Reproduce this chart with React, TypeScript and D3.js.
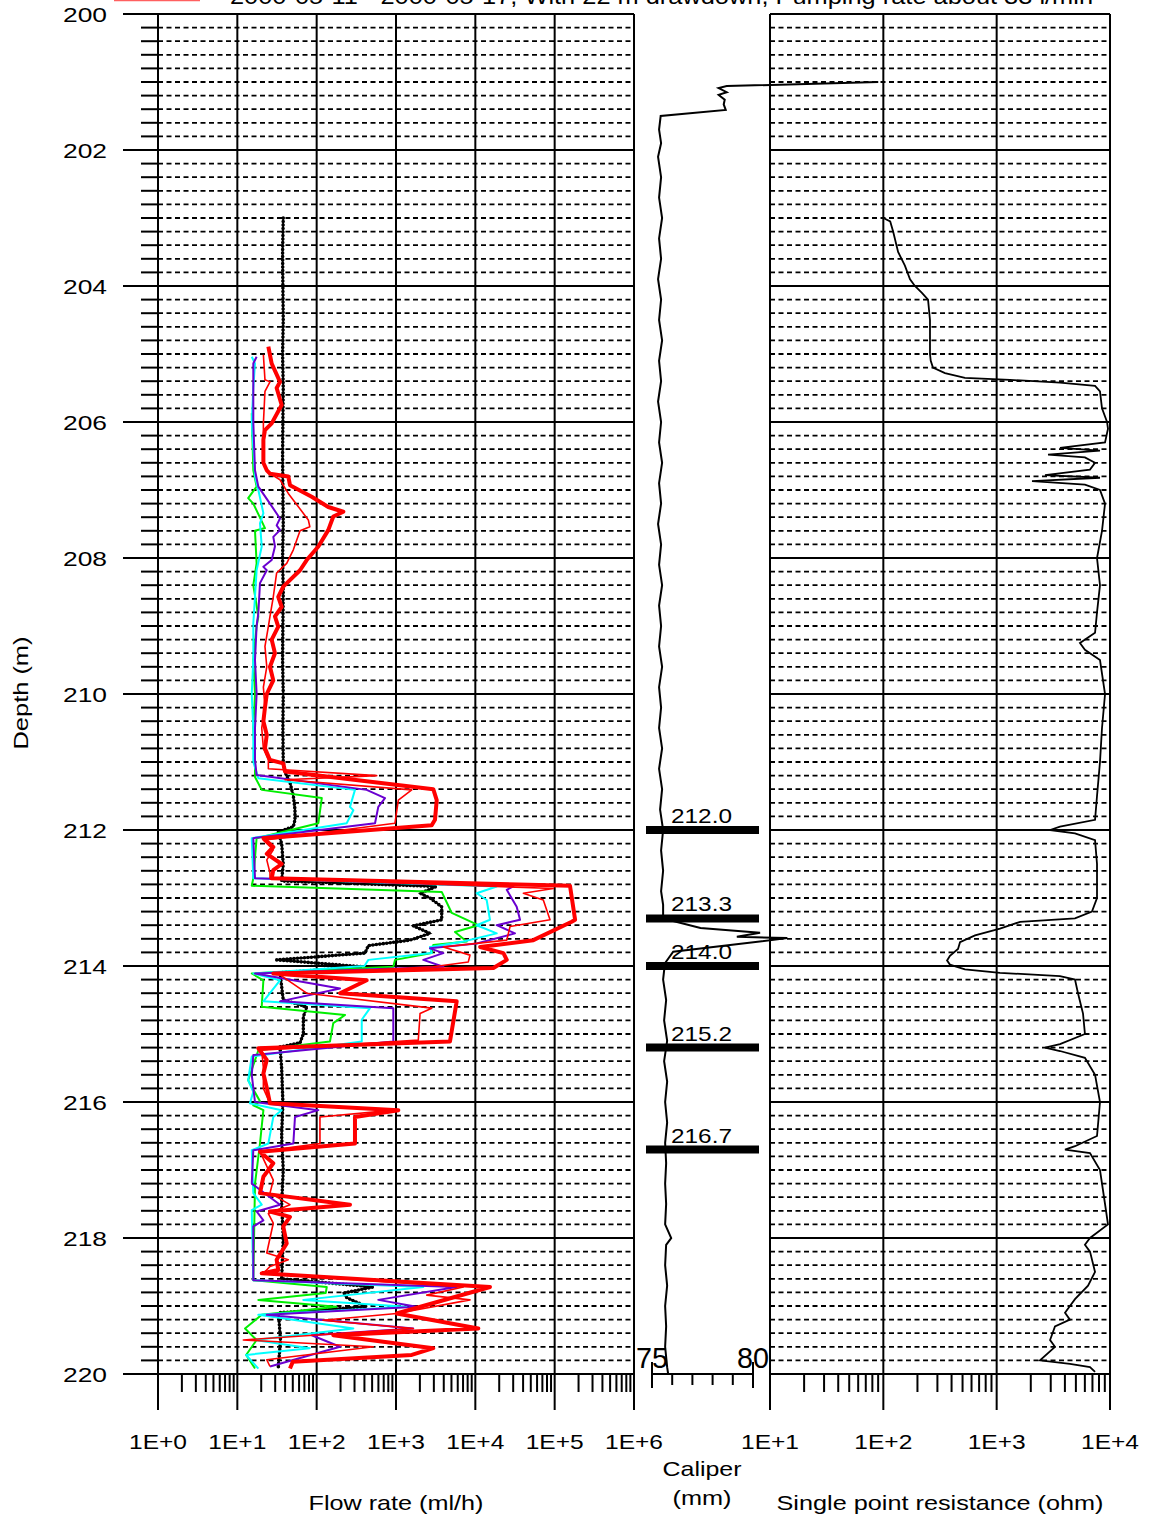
import React from 'react';
import * as d3 from 'd3';

const W = 1149;
const H = 1517;
const FONT = '"Liberation Sans", Arial, sans-serif';

const titleText = '2000-05-11 - 2000-05-17, With 22 m drawdown, Pumping rate about 33 l/min';
const depthTicks = [200, 202, 204, 206, 208, 210, 212, 214, 216, 218, 220];
const flowTickLabels = ['1E+0', '1E+1', '1E+2', '1E+3', '1E+4', '1E+5', '1E+6'];
const resTickLabels = ['1E+1', '1E+2', '1E+3', '1E+4'];
const caliperTicks = [75, 76, 77, 78, 79, 80];
const caliperLabels = ['75', '80'];
const fractureDepths = [212.0, 213.3, 214.0, 215.2, 216.7];

// [depth (m), flow (ml/h)]
const blackFlow: [number, number][] = [
  [203.0, 37.9], [203.5, 37.2], [204.0, 37.5], [204.5, 37.9], [205.0, 37.2], [205.5, 37.9], [206.0, 37.5],
  [206.5, 37.2], [207.0, 37.5], [207.5, 37.9], [208.0, 37.2], [208.5, 37.9], [209.0, 37.5], [209.5, 37.2],
  [210.0, 37.9], [210.5, 37.5], [211.0, 37.9], [211.15, 39.9], [211.3, 46.1], [211.5, 50.8], [211.7, 53.3],
  [211.85, 53.3], [211.95, 50.8], [212.03, 32.8], [212.2, 36.2], [212.5, 37.9], [212.75, 36.2], [212.83, 3260],
  [212.93, 2010], [213.0, 2680], [213.13, 3770], [213.32, 3770], [213.41, 1650], [213.52, 2680], [213.62, 1500],
  [213.7, 448], [213.81, 407], [213.91, 31.3], [214.01, 370], [214.1, 34.5], [214.3, 36.2], [214.5, 37.9],
  [214.6, 74.9], [214.75, 67.9], [215.0, 67.9], [215.13, 61.7], [215.19, 34.5], [215.5, 36.2], [216.0, 37.5],
  [216.5, 36.2], [217.0, 37.9], [217.5, 36.2], [218.0, 37.9], [218.6, 36.2], [218.72, 518], [218.81, 217],
  [218.88, 240], [219.01, 427], [219.1, 33], [219.5, 35], [219.91, 32.8],
];

const redThick: [number, number][] = [
  [204.89, 24.6], [205.14, 27.1], [205.41, 34.5], [205.5, 31.3], [205.75, 36.2], [206.02, 27.1], [206.12, 22.3],
  [206.26, 21.3], [206.6, 21.3], [206.71, 23.5], [206.76, 25.8], [206.8, 43.9], [206.93, 46.1], [207.1, 86.6],
  [207.25, 140], [207.32, 217], [207.39, 162], [207.59, 140], [207.83, 105], [208.03, 74.9], [208.18, 61.7],
  [208.42, 37.9], [208.57, 32.8], [208.72, 36.2], [208.86, 29.8], [209.01, 32.8], [209.2, 27.1], [209.4, 29.8],
  [209.6, 25.8], [209.8, 28.4], [210.0, 23.5], [210.2, 22.3], [210.4, 21.3], [210.6, 23.5], [210.8, 22.3],
  [210.97, 25.8], [211.02, 37.9], [211.14, 39.9], [211.4, 2950], [211.56, 3260], [211.85, 3100], [211.93, 2820],
  [212.12, 21.3], [212.25, 28.4], [212.35, 23.5], [212.5, 36.2], [212.59, 28.4], [212.71, 27.1], [212.82, 156000],
  [213.32, 181000], [213.35, 164000], [213.62, 53800], [213.72, 11500], [213.81, 22600], [213.91, 24900],
  [214.03, 16900], [214.11, 28.4], [214.21, 427], [214.4, 197], [214.52, 5820], [215.11, 4790], [215.21, 18.4],
  [215.38, 23.5], [215.58, 21.3], [215.79, 23.5], [216.02, 25.8], [216.12, 1070], [216.22, 304], [216.61, 304],
  [216.73, 19.3], [216.9, 28.4], [217.1, 21.3], [217.34, 19.3], [217.51, 263], [217.61, 25.8], [217.69, 46.1],
  [217.83, 37.9], [218.08, 41.9], [218.32, 31.3], [218.47, 32.8], [218.52, 20.3], [218.72, 15300], [219.11, 1020],
  [219.33, 10900], [219.43, 162], [219.62, 2950], [219.72, 1580], [219.82, 50], [219.92, 46.1],
];

const redThin: [number, number][] = [
  [205.01, 21.3], [205.38, 22.3], [205.41, 25.8], [205.55, 22.3], [206.02, 21.3], [206.61, 21.3], [206.76, 25.8],
  [206.85, 34.5], [207.05, 43.9], [207.44, 78.5], [207.54, 82], [207.6, 61.7], [207.88, 50.8], [208.08, 41.9],
  [208.22, 31.3], [208.57, 28.4], [208.86, 25.8], [209.01, 24.6], [209.3, 22.3], [209.6, 23.5], [209.9, 21.3],
  [210.2, 22.3], [210.5, 20.3], [210.8, 21.3], [210.97, 24.6], [211.1, 24.6], [211.2, 571], [211.26, 39.9],
  [211.41, 1580], [211.56, 1070], [211.9, 971], [212.15, 21.3], [212.29, 28.4], [212.44, 23.5], [212.63, 25.8],
  [212.71, 25.8], [212.86, 96200], [212.93, 40300], [213.03, 71900], [213.32, 87400], [213.42, 27400],
  [213.62, 24900], [213.72, 3950], [213.84, 8570], [213.94, 8150], [214.01, 2950], [214.13, 34.5], [214.4, 74.9],
  [214.62, 2820], [214.7, 2010], [215.09, 1910], [215.24, 20.3], [215.5, 21.3], [215.8, 21.3], [216.02, 25.8],
  [216.12, 925], [216.22, 110], [216.61, 110], [216.73, 19.3], [217.15, 28.4], [217.34, 25.8], [217.51, 46.1],
  [217.64, 24.6], [217.78, 28.4], [218.22, 23.5], [218.32, 43.9], [218.42, 25.8], [218.52, 21.3], [218.72, 7050],
  [218.84, 2440], [218.91, 8570], [219.11, 1020], [219.21, 120], [219.33, 1650], [219.5, 11.9], [219.6, 518],
  [219.79, 23.5], [219.89, 25.8],
];

const purpleFlow: [number, number][] = [
  [205.04, 17.5], [205.14, 15.9], [206.0, 15.9], [206.71, 16.7], [206.95, 18.4], [207.2, 25.8], [207.42, 34.5],
  [207.52, 31.3], [207.59, 34.5], [207.69, 28.4], [207.83, 29.8], [208.03, 27.1], [208.13, 21.3], [208.18, 23.5],
  [208.37, 19.3], [208.81, 18.4], [209.0, 17.5], [209.5, 16.7], [210.0, 17.5], [210.5, 16.7], [210.97, 16.7],
  [211.19, 17.5], [211.41, 427], [211.53, 727], [211.66, 598], [211.9, 544], [212.12, 15.9], [212.71, 16.7],
  [212.83, 30100], [212.88, 24900], [213.13, 33200], [213.32, 36600], [213.4, 18600], [213.52, 31600],
  [213.67, 10400], [213.74, 2680], [213.81, 3950], [213.91, 2210], [214.01, 3950], [214.11, 16.7], [214.33, 197],
  [214.52, 34.5], [214.62, 925], [215.11, 925], [215.31, 15.9], [215.6, 15.2], [216.0, 16.7], [216.12, 105],
  [216.22, 53.3], [216.61, 50.8], [216.71, 15.9], [217.2, 15.2], [217.51, 34.5], [217.61, 17.5], [217.74, 21.3],
  [217.83, 15.9], [218.62, 15.9], [218.72, 5820], [218.91, 598], [219.01, 1820], [219.13, 23.5], [219.33, 1650],
  [219.43, 86.6], [219.6, 197], [219.89, 25.8],
];

const cyanFlow: [number, number][] = [
  [205.04, 15.2], [205.14, 16.7], [205.5, 15.9], [206.0, 15.2], [206.8, 16.7], [207.0, 18.4], [207.34, 21.3],
  [207.49, 19.3], [207.83, 20.3], [208.18, 17.5], [208.57, 16.7], [208.96, 15.9], [209.5, 15.9], [210.0, 15.2],
  [210.5, 15.9], [211.0, 15.9], [211.24, 18.4], [211.41, 304], [211.66, 263], [211.71, 290], [211.9, 239],
  [212.12, 15.2], [212.71, 15.9], [212.83, 18600], [212.93, 10400], [213.03, 13900], [213.32, 15300],
  [213.4, 10400], [213.52, 18600], [213.64, 7050], [213.72, 2680], [213.81, 2820], [213.91, 448], [214.0, 400],
  [214.11, 15.9], [214.21, 34.5], [214.52, 21.3], [214.62, 470], [214.79, 370], [215.11, 370], [215.33, 15.2],
  [215.68, 13.7], [215.85, 15.9], [216.02, 14.4], [216.12, 36.2], [216.22, 28.4], [216.61, 24.6], [216.71, 15.2],
  [217.34, 15.9], [217.51, 20.3], [217.59, 15.2], [218.62, 15.9], [218.72, 2210], [218.91, 67.9], [219.01, 1360],
  [219.13, 18.4], [219.33, 290], [219.5, 16.7], [219.62, 82], [219.72, 12.9], [219.92, 18.4],
];

const greenFlow: [number, number][] = [
  [205.87, 15.2], [206.71, 15.9], [206.95, 17.5], [207.12, 13.7], [207.2, 15.9], [207.56, 22.3], [207.6, 16.7],
  [208.08, 17.5], [208.4, 15.9], [208.86, 18.4], [209.0, 17.5], [209.5, 15.9], [210.0, 16.7], [210.5, 15.9],
  [211.0, 16.7], [211.22, 16.7], [211.41, 20.3], [211.53, 116], [211.9, 105], [212.12, 17.5], [212.71, 15.9],
  [212.82, 15.2], [212.91, 3770], [213.22, 5040], [213.4, 10900], [213.5, 5540], [213.64, 7780], [213.69, 2950],
  [213.81, 2820], [213.91, 971], [214.01, 925], [214.11, 15.2], [214.21, 21.3], [214.6, 20.3], [214.72, 228],
  [214.84, 162], [215.11, 147], [215.24, 18.4], [215.68, 13.7], [215.99, 19.3], [216.05, 15.9], [216.12, 21.3],
  [216.61, 19.3], [217.2, 16.7], [218.62, 15.9], [218.72, 134], [218.81, 130], [218.91, 18.4], [219.01, 178],
  [219.13, 20.3], [219.33, 12.5], [219.5, 17.5], [219.72, 12.9], [219.92, 16.7],
];

// [depth (m), caliper (mm)]
const caliper: [number, number][] = [
  [201.0, 86.2], [201.06, 78.7], [201.09, 78.3], [201.15, 78.7], [201.19, 78.3], [201.26, 78.6], [201.33, 78.55],
  [201.41, 78.65], [201.5, 75.43], [201.7, 75.35], [201.9, 75.45], [202.1, 75.3], [202.4, 75.45], [202.7, 75.35],
  [203.0, 75.5], [203.3, 75.35], [203.6, 75.45], [203.9, 75.3], [204.2, 75.45], [204.5, 75.35], [204.8, 75.5],
  [205.1, 75.35], [205.4, 75.45], [205.7, 75.3], [206.0, 75.45], [206.3, 75.35], [206.6, 75.5], [206.9, 75.35],
  [207.2, 75.45], [207.5, 75.3], [207.8, 75.45], [208.1, 75.35], [208.4, 75.5], [208.7, 75.35], [209.0, 75.45],
  [209.3, 75.35], [209.6, 75.5], [209.9, 75.35], [210.2, 75.45], [210.5, 75.35], [210.8, 75.5], [211.1, 75.35],
  [211.4, 75.5], [211.7, 75.4], [212.0, 75.55], [212.3, 75.45], [212.6, 75.55], [212.9, 75.45], [213.1, 75.55],
  [213.3, 75.55], [213.44, 77.4], [213.51, 80.35], [213.57, 79.2], [213.59, 81.7], [213.79, 76.05], [213.96, 75.64],
  [214.2, 75.55], [214.5, 75.7], [214.8, 75.6], [215.1, 75.75], [215.4, 75.6], [215.7, 75.75], [216.0, 75.65],
  [216.3, 75.75], [216.6, 75.65], [216.9, 75.7], [217.2, 75.65], [217.5, 75.7], [217.8, 75.65], [218.0, 75.95],
  [218.1, 75.7], [218.4, 75.65], [218.7, 75.75], [219.0, 75.65], [219.3, 75.7], [219.6, 75.65], [219.9, 75.75],
  [220.0, 75.8],
];

// [depth (m), resistance (ohm)]
const resistance: [number, number][] = [
  [203.0, 100], [203.05, 115], [203.2, 122], [203.5, 135], [203.7, 155], [203.9, 172], [204.0, 190], [204.1, 219],
  [204.2, 248], [204.5, 258], [205.0, 258], [205.1, 262], [205.2, 274], [205.28, 350], [205.35, 525],
  [205.38, 1310], [205.42, 3620], [205.47, 7380], [205.55, 8160], [205.8, 8500], [206.0, 9420], [206.1, 9600],
  [206.3, 9040], [206.38, 3620], [206.42, 8160], [206.48, 2840], [206.52, 6010], [206.6, 7380], [206.7, 6660],
  [206.78, 2670], [206.82, 8160], [206.87, 2050], [206.92, 6010], [207.0, 8160], [207.2, 9040], [207.6, 8500],
  [208.0, 7680], [208.4, 8160], [208.8, 7680], [209.1, 7380], [209.25, 5430], [209.35, 6010], [209.5, 8160],
  [210.0, 9040], [210.5, 8500], [211.0, 8160], [211.5, 7680], [211.85, 7380], [211.95, 3620], [212.0, 2960],
  [212.05, 4910], [212.15, 7380], [212.5, 7680], [213.0, 7680], [213.2, 6930], [213.3, 4910], [213.35, 1610],
  [213.45, 1070], [213.55, 644], [213.65, 475], [213.75, 456], [213.85, 387], [213.92, 365], [213.98, 387],
  [214.05, 525], [214.1, 1070], [214.15, 3620], [214.2, 4910], [214.4, 5220], [214.7, 5780], [215.0, 6010],
  [215.15, 3620], [215.2, 2670], [215.25, 3620], [215.35, 6010], [215.6, 7380], [216.0, 8160], [216.5, 7680],
  [216.65, 4910], [216.7, 4010], [216.75, 6660], [217.0, 8160], [217.5, 9040], [217.8, 9600], [218.0, 6660],
  [218.1, 6010], [218.2, 6660], [218.5, 7380], [218.7, 6400], [218.9, 4910], [219.0, 4430], [219.1, 4010],
  [219.2, 4430], [219.3, 3270], [219.5, 2960], [219.6, 3270], [219.8, 2410], [219.85, 4430], [219.9, 6660],
  [219.97, 7380],
];

const y = d3.scaleLinear().domain([200, 220]).range([14, 1374]);
const xFlow = d3.scaleLog().domain([1, 1e6]).range([158, 634]);
const xCal = d3.scaleLinear().domain([75, 80]).range([652, 753]);
const xRes = d3.scaleLog().domain([10, 1e4]).range([770, 1110]);

const flowLine = d3.line<[number, number]>().x(d => xFlow(d[1])).y(d => y(d[0]));
const calLine = d3.line<[number, number]>().x(d => xCal(d[1])).y(d => y(d[0]));
const resLine = d3.line<[number, number]>().x(d => xRes(d[1])).y(d => y(d[0]));

const minorDepths = d3.range(0, 101).map(i => 200 + i * 0.2).filter((d, i) => i % 10 !== 0);
const flowMinor: number[] = [];
for (let e = 0; e < 6; e++) for (let k = 2; k <= 9; k++) flowMinor.push(k * Math.pow(10, e));
const resMinor: number[] = [];
for (let e = 1; e < 4; e++) for (let k = 2; k <= 9; k++) resMinor.push(k * Math.pow(10, e));
const flowDecades = flowTickLabels.map((_, i) => Math.pow(10, i));
const resDecades = resTickLabels.map((_, i) => Math.pow(10, i + 1));

export default function App() {
  const dash = '5,3.5';
  return (
    <svg width={W} height={H} style={{ position: 'absolute', left: 0, top: 0, background: '#fff' }} fontFamily={FONT}>
      <rect x={0} y={0} width={W} height={H} fill="#fff" />
      {/* title & legend */}
      <line x1={114} x2={200} y1={0} y2={0} stroke="#ff6060" strokeWidth={2.5} />
      <text x={230} y={4} fontSize={22} textLength={863} lengthAdjust="spacingAndGlyphs">{titleText}</text>

      {/* minor horizontal lines */}
      {minorDepths.map((d, i) => (
        <g key={'m' + i}>
          <line x1={141} x2={158} y1={y(d)} y2={y(d)} stroke="#000" strokeWidth={2} />
          <line x1={158} x2={634} y1={y(d)} y2={y(d)} stroke="#000" strokeWidth={1.8} strokeDasharray={dash} />
          <line x1={770} x2={1110} y1={y(d)} y2={y(d)} stroke="#000" strokeWidth={1.8} strokeDasharray={dash} />
        </g>
      ))}
      {/* major horizontal lines */}
      {depthTicks.map(d => (
        <g key={'M' + d}>
          <line x1={123} x2={634} y1={y(d)} y2={y(d)} stroke="#000" strokeWidth={2} />
          <line x1={770} x2={1110} y1={y(d)} y2={y(d)} stroke="#000" strokeWidth={2} />
          <text x={107} y={y(d) + 8} fontSize={21} textAnchor="end" textLength={44} lengthAdjust="spacingAndGlyphs">{d}</text>
        </g>
      ))}
      {/* vertical lines flow */}
      {flowDecades.map((v, i) => (
        <g key={'fv' + i}>
          <line x1={xFlow(v)} x2={xFlow(v)} y1={14} y2={1410} stroke="#000" strokeWidth={2} />
          <text x={xFlow(v)} y={1449} fontSize={21} textAnchor="middle" textLength={58} lengthAdjust="spacingAndGlyphs">{flowTickLabels[i]}</text>
        </g>
      ))}
      {flowMinor.map((v, i) => (
        <line key={'fm' + i} x1={xFlow(v)} x2={xFlow(v)} y1={1374} y2={1392} stroke="#000" strokeWidth={2} />
      ))}
      {/* vertical lines resistance */}
      {resDecades.map((v, i) => (
        <g key={'rv' + i}>
          <line x1={xRes(v)} x2={xRes(v)} y1={14} y2={1410} stroke="#000" strokeWidth={2} />
          <text x={xRes(v)} y={1449} fontSize={21} textAnchor="middle" textLength={58} lengthAdjust="spacingAndGlyphs">{resTickLabels[i]}</text>
        </g>
      ))}
      {resMinor.map((v, i) => (
        <line key={'rm' + i} x1={xRes(v)} x2={xRes(v)} y1={1374} y2={1392} stroke="#000" strokeWidth={2} />
      ))}

      {/* caliper axis */}
      <line x1={xCal(75)} x2={xCal(80)} y1={1374} y2={1374} stroke="#000" strokeWidth={2} />
      {caliperTicks.map((c, i) => (
        <line key={'ct' + c} x1={xCal(c)} x2={xCal(c)} y1={i === 0 || i === caliperTicks.length - 1 ? 1362 : 1374} y2={i === 0 || i === caliperTicks.length - 1 ? 1388 : 1385} stroke="#000" strokeWidth={2} />
      ))}
      {caliperLabels.map(l => (
        <text key={'cl' + l} x={xCal(+l)} y={1368} fontSize={30} textAnchor="middle" textLength={32} lengthAdjust="spacingAndGlyphs">{l}</text>
      ))}

      {/* fracture bars */}
      {fractureDepths.map(d => (
        <g key={'fr' + d}>
          <line x1={646} x2={759} y1={y(d)} y2={y(d)} stroke="#000" strokeWidth={8} />
          <text x={671} y={y(d) - 7} fontSize={21} textLength={61} lengthAdjust="spacingAndGlyphs">{d.toFixed(1)}</text>
        </g>
      ))}

      {/* flow curves */}
      <path d={flowLine(blackFlow) || ''} fill="none" stroke="#000" strokeWidth={1.8} />
      <path d={flowLine(blackFlow) || ''} fill="none" stroke="#000" strokeWidth={3.6} strokeDasharray="0 3.5" strokeLinecap="round" />
      <path d={flowLine(greenFlow) || ''} fill="none" stroke="#00ee00" strokeWidth={2} strokeLinejoin="round" />
      <path d={flowLine(cyanFlow) || ''} fill="none" stroke="#00ffff" strokeWidth={2} strokeLinejoin="round" />
      <path d={flowLine(purpleFlow) || ''} fill="none" stroke="#6a00d0" strokeWidth={2} strokeLinejoin="round" />
      <path d={flowLine(redThin) || ''} fill="none" stroke="#ff0000" strokeWidth={1.6} strokeLinejoin="round" />
      <path d={flowLine(redThick) || ''} fill="none" stroke="#ff0000" strokeWidth={4} strokeLinejoin="round" />

      {/* caliper & resistance */}
      <path d={calLine(caliper) || ''} fill="none" stroke="#000" strokeWidth={2} />
      <path d={resLine(resistance) || ''} fill="none" stroke="#000" strokeWidth={1.8} />

      {/* axis titles */}
      <text transform="translate(28,693) rotate(-90)" fontSize={21} textAnchor="middle" textLength={113} lengthAdjust="spacingAndGlyphs">Depth (m)</text>
      <text x={396} y={1510} fontSize={21} textAnchor="middle" textLength={175} lengthAdjust="spacingAndGlyphs">Flow rate (ml/h)</text>
      <text x={702} y={1476} fontSize={21} textAnchor="middle" textLength={79} lengthAdjust="spacingAndGlyphs">Caliper</text>
      <text x={702} y={1505} fontSize={21} textAnchor="middle" textLength={59} lengthAdjust="spacingAndGlyphs">(mm)</text>
      <text x={940} y={1510} fontSize={21} textAnchor="middle" textLength={327} lengthAdjust="spacingAndGlyphs">Single point resistance (ohm)</text>
    </svg>
  );
}
